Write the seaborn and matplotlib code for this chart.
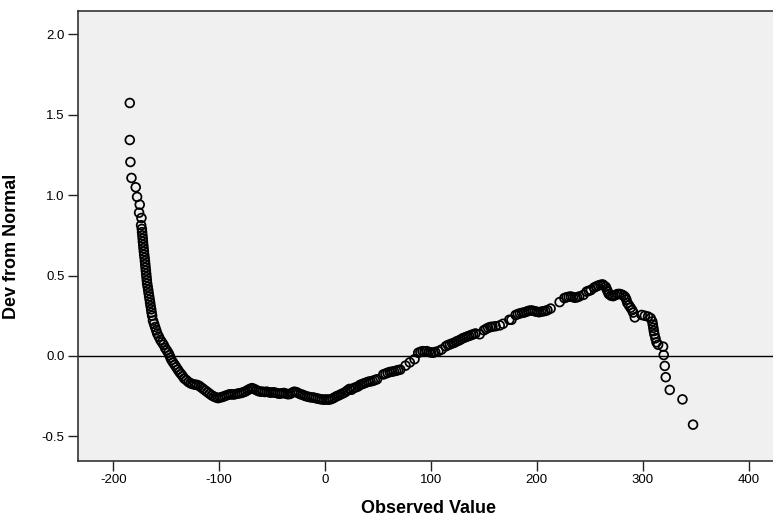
import matplotlib
matplotlib.use("Agg")
import matplotlib.pyplot as plt
import seaborn as sns
import pandas as pd

# ---- data (detrended normal Q-Q plot) ----
tail_x = [-184.4, -184.4, -183.8, -182.8, -178.8, -177.5, -175.0, -175.6, -173.4, -173.7]
tail_y = [1.573, 1.343, 1.206, 1.107, 1.049, 0.989, 0.941, 0.891, 0.858, 0.813]

steep_x = [-173.0, -172.8, -172.5, -172.2, -172.0, -171.7, -171.4, -171.1, -170.8, -170.4,
           -170.1, -169.8, -169.5, -169.2, -168.9, -168.6, -168.3, -168.0, -167.5, -167.0,
           -166.6, -166.1, -165.6, -165.2, -164.7, -164.2, -163.8, -163.3]
steep_y = [0.79, 0.77, 0.75, 0.73, 0.71, 0.69, 0.67, 0.65, 0.63, 0.61,
           0.59, 0.57, 0.55, 0.53, 0.51, 0.49, 0.47, 0.45, 0.43, 0.41,
           0.39, 0.37, 0.35, 0.33, 0.31, 0.29, 0.27, 0.25]

trough_x = [-162.5, -161.5, -160.5, -159.5, -158.5, -157, -155.5, -154, -152.5, -151,
            -149.5, -148, -147, -146, -145, -143.5, -142, -140.5, -139, -137.5,
            -136, -134.5, -133, -131, -129, -127, -125, -123, -121, -119,
            -117, -115, -113, -111, -109, -107, -105, -103, -101, -99,
            -97, -95, -93, -91, -89, -87, -85, -83, -81, -79,
            -77, -75, -73, -71, -69, -67, -65, -63, -61, -59,
            -57, -55, -53, -51, -49, -47, -45, -43, -41, -39,
            -37, -35, -33, -31, -29, -27, -25, -23, -21, -19,
            -17, -15, -13, -11, -9, -7, -5, -3, -1, 1,
            3, 5, 7, 9, 11, 13, 15, 17, 19, 21, 23]
trough_y = [0.22, 0.20, 0.18, 0.16, 0.14, 0.12, 0.10, 0.085, 0.07, 0.05,
            0.035, 0.02, 0.005, -0.01, -0.025, -0.04, -0.055, -0.07, -0.085, -0.10,
            -0.112, -0.125, -0.14, -0.15, -0.162, -0.17, -0.175, -0.178, -0.18, -0.185,
            -0.195, -0.205, -0.215, -0.225, -0.235, -0.245, -0.252, -0.258, -0.262, -0.258,
            -0.255, -0.25, -0.245, -0.24, -0.238, -0.24, -0.238, -0.235, -0.232, -0.23,
            -0.225, -0.22, -0.212, -0.205, -0.2, -0.205, -0.212, -0.218, -0.222, -0.222,
            -0.224, -0.222, -0.226, -0.228, -0.226, -0.228, -0.232, -0.235, -0.232, -0.23,
            -0.234, -0.238, -0.236, -0.228, -0.222, -0.225, -0.232, -0.238, -0.242, -0.248,
            -0.252, -0.255, -0.258, -0.258, -0.262, -0.265, -0.268, -0.27, -0.272, -0.27,
            -0.272, -0.27, -0.265, -0.258, -0.25, -0.245, -0.238, -0.232, -0.225, -0.215, -0.205]

rise_x = [25, 27, 29, 31, 33, 35, 37, 39, 41, 43, 45, 47, 49,
          55, 57, 59, 61, 63, 65, 67, 69, 71, 76, 80, 84.5,
          88, 90, 92, 94, 96, 98, 100, 102, 104, 107, 110,
          114, 116, 118, 120, 122, 124, 126, 128, 130, 132, 134, 136, 138, 140, 142, 146,
          150, 152, 154, 156, 158, 161, 165, 168, 174, 176,
          180, 182, 184, 186, 188, 190, 192, 194, 196, 198, 200, 202, 204, 206, 208, 210, 213,
          221.5, 226, 228, 230, 232, 234, 236, 238, 240, 244,
          247, 249, 251, 254, 256, 258, 260, 262, 263]
rise_y = [-0.21, -0.20, -0.195, -0.19, -0.18, -0.175, -0.17, -0.165, -0.16, -0.158, -0.155, -0.15, -0.145,
          -0.115, -0.11, -0.105, -0.1, -0.098, -0.095, -0.092, -0.088, -0.085, -0.06, -0.04, -0.02,
          0.02, 0.025, 0.03, 0.028, 0.03, 0.025, 0.022, 0.02, 0.025, 0.03, 0.04,
          0.06, 0.068, 0.072, 0.078, 0.082, 0.09, 0.095, 0.102, 0.11, 0.115, 0.12, 0.125, 0.13, 0.135, 0.14, 0.135,
          0.16, 0.168, 0.175, 0.18, 0.182, 0.185, 0.19, 0.2, 0.225, 0.225,
          0.255, 0.26, 0.265, 0.268, 0.27, 0.275, 0.28, 0.283, 0.282, 0.278, 0.275, 0.272, 0.275, 0.278, 0.28, 0.285, 0.295,
          0.335, 0.36, 0.365, 0.368, 0.37, 0.366, 0.362, 0.365, 0.37, 0.38,
          0.40, 0.405, 0.41, 0.425, 0.432, 0.438, 0.442, 0.445, 0.44]

fall_x = [265, 266, 267, 268, 270, 272, 274, 276, 278, 280, 282, 283.5, 284.5, 285.5,
          287, 288.5, 290, 291, 292.5, 299, 302, 305, 307.5, 309, 309.5, 310, 310.5, 311,
          312, 313, 314.5, 319.2, 319.8, 320.8, 321.7, 325.5, 337.5, 347.5]
fall_y = [0.43, 0.415, 0.40, 0.385, 0.375, 0.372, 0.378, 0.385, 0.386, 0.382, 0.375, 0.365, 0.35, 0.33,
          0.315, 0.30, 0.285, 0.27, 0.24, 0.255, 0.25, 0.245, 0.235, 0.215, 0.195, 0.175, 0.155, 0.135,
          0.11, 0.085, 0.07, 0.058, 0.006, -0.062, -0.132, -0.211, -0.27, -0.427]

x_ticks = [-200, -100, 0, 100, 200, 300, 400]
y_ticks = [-0.5, 0.0, 0.5, 1.0, 1.5, 2.0]
x_label = "Observed Value"
y_label = "Dev from Normal"

df = pd.DataFrame({
    "Observed Value": tail_x + steep_x + trough_x + rise_x + fall_x,
    "Dev from Normal": tail_y + steep_y + trough_y + rise_y + fall_y,
})

sns.set_style("white")
plt.rcParams["font.family"] = ["Liberation Sans", "DejaVu Sans"]
plt.rcParams["text.color"] = "black"
plt.rcParams["axes.labelcolor"] = "black"

fig = plt.figure(figsize=(7.73, 5.20), dpi=100)
fig.patch.set_facecolor("white")
ax = fig.add_axes([78 / 773, 59 / 520, 695 / 773, 450 / 520])
ax.set_facecolor("#F0F0F0")

ax.axhline(0, color="black", lw=1.0, zorder=1)
sns.scatterplot(data=df, x="Observed Value", y="Dev from Normal", ax=ax,
                marker="o", s=40, linewidth=1.25, zorder=3, legend=False)
coll = ax.collections[-1]
coll.set_facecolor("none")
coll.set_edgecolor("black")

ax.set_xlim(-233.3, 423)
ax.set_ylim(-0.653, 2.145)
ax.set_xticks(x_ticks)
ax.set_xticklabels([str(v) for v in x_ticks])
ax.set_yticks(y_ticks)
ax.set_yticklabels([f"{v:.1f}" for v in y_ticks])

ax.tick_params(axis="both", direction="out", length=7.2, width=1.0, color="#222222",
               labelsize=9.5, pad=2.5, labelcolor="black")
ax.tick_params(bottom=True, left=True, top=False, right=False)

for side in ["left", "bottom", "top"]:
    ax.spines[side].set_visible(True)
    ax.spines[side].set_color("#333333")
    ax.spines[side].set_linewidth(1.2)
ax.spines["right"].set_visible(False)

ax.set_xlabel(x_label, fontsize=13, fontweight="bold", va="top", color="black")
ax.set_ylabel(y_label, fontsize=13, fontweight="bold", color="black")
ax.xaxis.set_label_coords(0.505, -0.086)
ax.yaxis.set_label_coords(-0.083, 0.477)

fig.savefig("out.png", dpi=100, facecolor="white")
